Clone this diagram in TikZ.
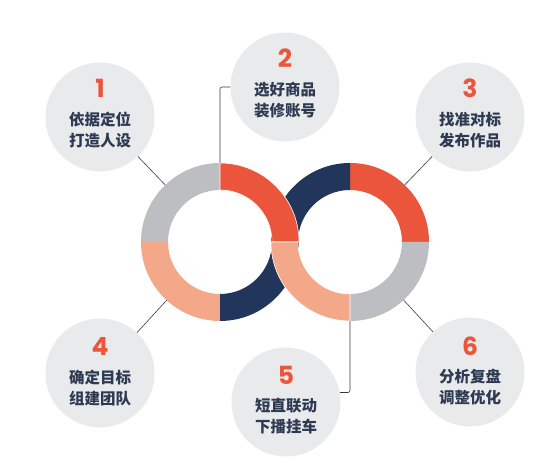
\documentclass[tikz,border=0pt]{standalone}
\usepackage{fontspec}
\newfontfamily\cjk{Noto Sans CJK SC}
\newfontfamily\numfont{Poppins}
\usepackage{tikz}
\usetikzlibrary{positioning,calc}

\definecolor{segRed}{HTML}{EB553B}
\definecolor{segNavy}{HTML}{22365B}
\definecolor{segSalmon}{HTML}{F4A88A}
\definecolor{segGray}{HTML}{BCBEC1}
\definecolor{bubbleGray}{HTML}{E9EAEC}
\definecolor{textNavy}{HTML}{2D3A52}
\definecolor{lineGray}{HTML}{3A3A3A}

\tikzstyle{loop_style}=[
	x=1pt,y=1pt,
	bubble/.style={circle,fill=bubbleGray,draw=none,minimum size=109pt,inner sep=0pt},
	number/.style={inner sep=0pt,font=\numfont\bfseries\fontsize{25}{25}\selectfont,text=segRed},
	caption/.style={inner sep=0pt,align=center,font=\cjk\bfseries\fontsize{15.5}{21.5}\selectfont,text=textNavy},
	link/.style={draw=lineGray,line width=0.6pt},
	overlap/.style={draw=white,line width=0.6pt}
]
\def\ringR{79pt}
\def\ringr{52pt}
\newcommand{\ringseg}[4]{\fill[#4] ($(#1)+(#2:\ringR)$) arc[start angle=#2,end angle=#3,radius=\ringR] -- ($(#1)+(#3:\ringr)$) arc[start angle=#3,end angle=#2,radius=\ringr] -- cycle;}

\begin{document}
\begin{tikzpicture}[loop_style]
	\useasboundingbox (0,0) rectangle (552,470);
	
	%ring centres
	\coordinate (L) at (220,228);
	\coordinate (R) at (350,228);
	
	%rings
	\ringseg{L}{90}{180}{segGray}
	\ringseg{L}{180}{270}{segSalmon}
	\ringseg{R}{0}{90}{segRed}
	\ringseg{R}{270}{360}{segGray}
	\ringseg{R}{90}{180}{segNavy}
	\ringseg{L}{270}{360}{segNavy}
	\ringseg{L}{0}{90}{segRed,overlap}
	\ringseg{R}{180}{270}{segSalmon,overlap}
	
	%bubbles
	\node[bubble] (b1) at (100,353) {};
	\node[number] (n1) at ($(b1)+(0,29)$) {1};
	\node[caption] (t1) at ($(b1)+(0,-13)$) {依据定位\\打造人设};
	
	\node[bubble] (b2) at (285,383) {};
	\node[number] (n2) at ($(b2)+(0,29)$) {2};
	\node[caption] (t2) at ($(b2)+(0,-13)$) {选好商品\\装修账号};
	
	\node[bubble] (b3) at (470,353) {};
	\node[number] (n3) at ($(b3)+(0,29)$) {3};
	\node[caption] (t3) at ($(b3)+(0,-13)$) {找准对标\\发布作品};
	
	\node[bubble] (b4) at (100,97) {};
	\node[number] (n4) at ($(b4)+(0,26)$) {4};
	\node[caption] (t4) at ($(b4)+(0,-15)$) {确定目标\\组建团队};
	
	\node[bubble] (b5) at (286,68) {};
	\node[number] (n5) at ($(b5)+(0,27)$) {5};
	\node[caption] (t5) at ($(b5)+(0,-14)$) {短直联动\\下播挂车};
	
	\node[bubble] (b6) at (470,98) {};
	\node[number] (n6) at ($(b6)+(0,26)$) {6};
	\node[caption] (t6) at ($(b6)+(0,-15)$) {分析复盘\\调整优化};
	
	%ring edge points
	\coordinate (L1) at ($(L)!\ringR!(b1)$);
	\coordinate (L4) at ($(L)!\ringR!(b4)$);
	\coordinate (R3) at ($(R)!\ringR!(b3)$);
	\coordinate (R6) at ($(R)!\ringR!(b6)$);
	\coordinate (Ltop) at ($(L)+(0,79)$);
	\coordinate (Rbot) at ($(R)+(0,-79)$);
	
	%connectors
	\draw[link] (b1) -- (L1);
	\draw[link] (b4) -- (L4);
	\draw[link] (b3) -- (R3);
	\draw[link] (b6) -- (R6);
	\draw[link,rounded corners=2pt] (b2.west) -| (Ltop);
	\draw[link,rounded corners=2pt] (b5.10) -| (Rbot);
	
\end{tikzpicture}
\end{document}
